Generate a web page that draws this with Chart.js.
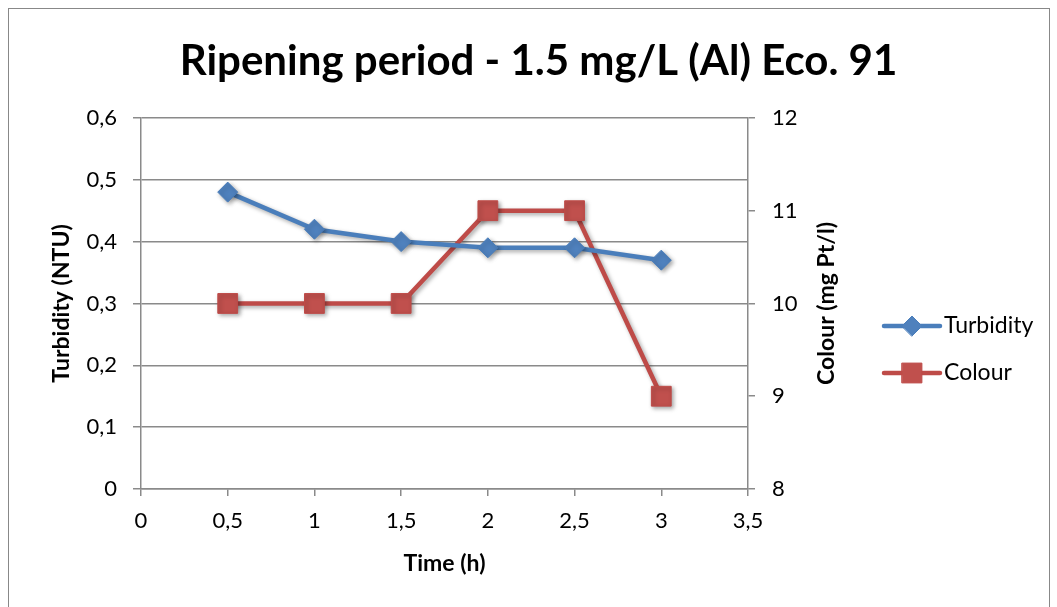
<!DOCTYPE html>
<html>
<head>
<meta charset="utf-8">
<script src="https://cdn.jsdelivr.net/npm/chart.js@4"></script>
<style>
  html, body { margin: 0; padding: 0; background: #fff; }
  #wrap { width: 1057px; height: 607px; }
</style>
</head>
<body>
<div id="wrap"><canvas id="grafico" width="1057" height="607"></canvas></div>
<script>
// dados
const tempos = [0.5, 1, 1.5, 2, 2.5, 3];          // Time (h)
const turbidez = [0.48, 0.42, 0.40, 0.39, 0.39, 0.37]; // NTU
const cor = [10, 10, 10, 11, 11, 9];               // mg Pt/l
const nomes = ['Turbidity', 'Colour'];
const fonte = 'Lato, "Open Sans", sans-serif';
const cinza = '#8a8a8a';

const virgula = v => String(Number(v.toFixed(2))).replace('.', ',');

// borda e fundo
const fundo = {
  id: 'fundo',
  beforeDraw(chart) {
    const c = chart.ctx;
    c.save();
    c.fillStyle = '#fff';
    c.fillRect(0, 0, chart.width, chart.height);
    c.strokeStyle = '#888';
    c.lineWidth = 1;
    c.strokeRect(8.5, 8.5, 1041, 620);
    c.restore();
  }
};

// sombra nas series
const sombra = {
  id: 'sombra',
  beforeDatasetsDraw(chart) {
    const c = chart.ctx;
    c.save();
    c.shadowColor = 'rgba(0,0,0,0.35)';
    c.shadowBlur = 4;
    c.shadowOffsetX = 2;
    c.shadowOffsetY = 2;
  },
  afterDatasetsDraw(chart) { chart.ctx.restore(); }
};

// titulo do eixo da direita (lido de baixo para cima) e legenda
const extras = {
  id: 'extras',
  afterDraw(chart) {
    const c = chart.ctx;
    const area = chart.chartArea;
    c.save();
    c.fillStyle = '#000';
    c.font = 'bold 23px ' + fonte;
    c.textAlign = 'center';
    c.textBaseline = 'middle';
    c.translate(827, (area.top + area.bottom) / 2);
    c.rotate(-Math.PI / 2);
    c.fillText(chart.options.scales.y1.title.text, 0, 0);
    c.restore();

    chart.data.datasets.forEach((ds, i) => {
      const y = 326 + i * 47;
      const x0 = 884, x1 = 940;
      c.save();
      c.strokeStyle = ds.borderColor;
      c.lineWidth = 4.5;
      c.lineCap = 'round';
      c.beginPath(); c.moveTo(x0, y); c.lineTo(x1, y); c.stroke();
      c.fillStyle = ds.pointBackgroundColor;
      c.strokeStyle = ds.pointBorderColor;
      c.lineWidth = 1;
      Chart.helpers.drawPoint(c, {
        pointStyle: ds.pointStyle, radius: ds.pointRadius, borderWidth: 1, rotation: 0
      }, (x0 + x1) / 2, y);
      c.fillStyle = '#000';
      c.font = '23px ' + fonte;
      c.textAlign = 'left';
      c.textBaseline = 'middle';
      c.fillText(ds.label, 944, y);
      c.restore();
    });
  }
};

const ctx = document.getElementById('grafico');
new Chart(ctx, {
  type: 'line',
  data: {
    datasets: [{
      label: nomes[0],
      data: tempos.map((t, i) => ({ x: t, y: turbidez[i] })),
      yAxisID: 'y',
      borderColor: '#4A7EBB',
      backgroundColor: '#4F81BD',
      pointBackgroundColor: '#4F81BD',
      pointBorderColor: '#4A7EBB',
      borderWidth: 4.5,
      pointStyle: 'rectRot',
      pointRadius: 10,
      pointBorderWidth: 1,
      tension: 0
    }, {
      label: nomes[1],
      data: tempos.map((t, i) => ({ x: t, y: cor[i] })),
      yAxisID: 'y1',
      borderColor: '#BE4B48',
      backgroundColor: '#C0504D',
      pointBackgroundColor: '#C0504D',
      pointBorderColor: '#BE4B48',
      borderWidth: 4.5,
      pointStyle: 'rect',
      pointRadius: 14,
      pointBorderWidth: 1,
      tension: 0
    }]
  },
  options: {
    responsive: false,
    animation: false,
    layout: { padding: { left: 20, right: 0, top: 0, bottom: 0 } },
    plugins: {
      legend: { display: false },
      tooltip: { enabled: false },
      title: {
        display: true,
        text: 'Ripening period - 1.5 mg/L (Al) Eco. 91',
        color: '#000',
        font: { family: fonte, size: 42, weight: 'bold' },
        padding: { top: 36.5, bottom: 31 }
      }
    },
    scales: {
      x: {
        type: 'linear',
        min: 0, max: 3.5,
        ticks: { stepSize: 0.5, color: '#000', font: { family: fonte, size: 22 }, padding: 12, callback: virgula, maxRotation: 0 },
        grid: { drawOnChartArea: false, color: cinza, lineWidth: 1.5, tickLength: 7 },
        border: { color: cinza, width: 1.5 },
        title: { display: true, text: 'Time (h)', color: '#000', font: { family: fonte, size: 23, weight: 'bold' }, padding: { top: 0, bottom: 30 } },
        afterFit(s) { s.height = 118; }
      },
      y: {
        position: 'left',
        min: 0, max: 0.6,
        ticks: { stepSize: 0.1, color: '#000', font: { family: fonte, size: 22 }, padding: 16, callback: virgula },
        grid: { color: cinza, lineWidth: 1.5, tickLength: 8 },
        border: { color: cinza, width: 1.5 },
        title: { display: true, text: 'Turbidity (NTU)', color: '#000', font: { family: fonte, size: 23, weight: 'bold' }, padding: { top: 28, bottom: 0 } },
        afterFit(s) { s.width = 121; }
      },
      y1: {
        position: 'right',
        min: 8, max: 12,
        ticks: { stepSize: 1, color: '#000', font: { family: fonte, size: 22 }, padding: 17 },
        grid: { drawOnChartArea: false, color: cinza, lineWidth: 1.5, tickLength: 7 },
        border: { color: cinza, width: 1.5 },
        title: { display: false, text: 'Colour (mg Pt/l)' },
        afterFit(s) { s.width = 309; }
      }
    }
  },
  plugins: [fundo, sombra, extras]
});
</script>
</body>
</html>
